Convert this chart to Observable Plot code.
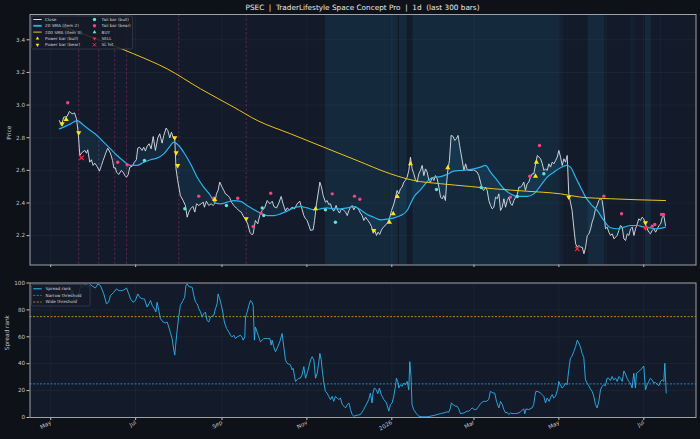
<!DOCTYPE html>
<html><head><meta charset="utf-8">
<script src="https://cdn.jsdelivr.net/npm/d3@7"></script>
<script src="https://cdn.jsdelivr.net/npm/@observablehq/plot@0.6"></script>
<style>
html,body{margin:0;padding:0;background:#0e1117;}
#wrap{position:relative;width:700px;height:439px;background:#0e1117;overflow:hidden;font-family:"DejaVu Sans",sans-serif;}
#wrap svg{position:absolute;left:0;overflow:visible;}
</style></head><body><div id="wrap"></div>
<script>
// ---- data (day offsets from 2025-05-01, values) ----
const baseDate = "2025-05-01";
const closeSeries = [[6.2,2.905],[7.7,2.875],[9.3,2.926],[11.7,2.930],[13.4,2.961],[15.4,2.946],[17.1,2.952],[18.5,2.916],[19.7,2.834],[20.9,2.691],[22.6,2.711],[24.5,2.722],[25.7,2.705],[26.6,2.726],[28.0,2.650],[29.2,2.665],[30.4,2.630],[31.6,2.644],[33.3,2.624],[35.0,2.595],[36.4,2.630],[37.6,2.660],[39.3,2.701],[40.9,2.736],[42.5,2.711],[43.4,2.691],[44.4,2.660],[45.3,2.615],[46.5,2.615],[47.2,2.589],[48.9,2.575],[50.6,2.599],[52.0,2.589],[53.2,2.569],[54.4,2.558],[55.6,2.573],[56.8,2.620],[58.4,2.624],[60.1,2.650],[61.5,2.665],[62.5,2.736],[63.9,2.742],[65.6,2.722],[66.8,2.742],[68.0,2.718],[69.2,2.748],[70.7,2.763],[72.1,2.732],[73.6,2.807],[75.2,2.722],[76.9,2.799],[78.3,2.824],[80.0,2.767],[81.2,2.814],[82.9,2.859],[84.1,2.844],[85.5,2.799],[86.7,2.834],[87.9,2.803],[89.1,2.787],[90.0,2.609],[91.2,2.538],[93.1,2.446],[95.1,2.415],[96.7,2.385],[98.0,2.313],[99.2,2.344],[100.4,2.364],[102.1,2.379],[103.5,2.344],[104.7,2.395],[106.3,2.385],[108.0,2.395],[109.5,2.405],[110.4,2.374],[111.8,2.411],[113.5,2.385],[115.2,2.395],[116.6,2.385],[117.8,2.395],[119.0,2.456],[120.2,2.477],[121.4,2.528],[123.1,2.497],[124.3,2.477],[125.5,2.456],[127.2,2.446],[128.6,2.432],[129.8,2.405],[131.5,2.385],[133.4,2.368],[135.1,2.354],[136.8,2.344],[138.7,2.313],[139.9,2.303],[141.5,2.272],[143.0,2.221],[144.6,2.205],[145.4,2.211],[147.0,2.293],[148.7,2.272],[150.1,2.323],[151.8,2.354],[153.6,2.370],[155.5,2.415],[157.4,2.395],[159.1,2.411],[160.3,2.378],[162.2,2.370],[163.8,2.399],[165.5,2.440],[166.9,2.395],[168.6,2.350],[169.8,2.370],[171.5,2.358],[173.4,2.374],[175.1,2.364],[177.0,2.395],[178.9,2.411],[180.1,2.374],[181.8,2.323],[183.0,2.303],[184.2,2.293],[186.6,2.232],[188.5,2.236],[189.5,2.293],[190.9,2.395],[192.6,2.487],[193.3,2.528],[194.5,2.497],[195.7,2.446],[197.3,2.405],[198.5,2.415],[199.7,2.391],[200.9,2.395],[202.1,2.364],[203.3,2.350],[205.0,2.385],[206.2,2.354],[207.4,2.338],[208.8,2.364],[210.1,2.358],[211.8,2.344],[213.0,2.323],[214.2,2.354],[215.3,2.374],[216.5,2.385],[217.7,2.358],[218.9,2.378],[220.1,2.370],[221.3,2.358],[222.5,2.338],[223.7,2.323],[224.9,2.293],[226.1,2.313],[227.8,2.293],[229.2,2.276],[230.4,2.256],[231.6,2.215],[232.8,2.232],[234.0,2.201],[235.1,2.221],[236.3,2.207],[237.6,2.236],[239.3,2.256],[241.0,2.268],[242.2,2.283],[243.6,2.313],[244.8,2.354],[246.5,2.395],[247.7,2.436],[248.8,2.477],[250.0,2.456],[251.2,2.487],[252.4,2.497],[253.6,2.528],[254.8,2.538],[256.0,2.558],[257.2,2.599],[258.4,2.681],[259.6,2.609],[260.8,2.579],[262.0,2.542],[263.2,2.528],[264.4,2.579],[265.6,2.599],[266.8,2.630],[268.0,2.568],[269.2,2.609],[270.4,2.589],[271.6,2.538],[272.8,2.528],[274.0,2.558],[275.2,2.538],[276.4,2.568],[277.6,2.548],[278.8,2.497],[280.0,2.436],[281.2,2.425],[282.3,2.446],[283.5,2.415],[284.3,2.517],[285.2,2.599],[286.4,2.660],[287.6,2.814],[289.0,2.808],[290.2,2.783],[291.4,2.793],[292.6,2.814],[293.7,2.752],[296.8,2.599],[298.0,2.640],[299.2,2.603],[301.6,2.599],[303.9,2.603],[306.3,2.589],[307.5,2.568],[308.7,2.528],[309.9,2.487],[311.1,2.477],[312.3,2.497],[313.5,2.477],[314.7,2.415],[315.9,2.385],[317.1,2.364],[318.3,2.374],[319.5,2.436],[320.7,2.426],[321.9,2.456],[323.1,2.354],[324.3,2.374],[325.5,2.426],[326.7,2.374],[327.9,2.415],[329.1,2.436],[330.3,2.395],[331.5,2.385],[332.7,2.415],[333.9,2.436],[335.1,2.452],[336.3,2.497],[337.4,2.497],[338.6,2.507],[339.8,2.528],[341.0,2.477],[342.2,2.517],[343.4,2.528],[344.6,2.558],[345.8,2.579],[347.0,2.579],[348.3,2.640],[349.5,2.691],[350.7,2.681],[351.9,2.671],[353.1,2.640],[354.3,2.599],[355.4,2.609],[356.6,2.599],[357.8,2.640],[359.0,2.620],[360.2,2.650],[361.4,2.640],[362.6,2.660],[363.8,2.681],[365.0,2.722],[366.2,2.681],[367.4,2.630],[368.6,2.671],[369.8,2.650],[371.0,2.691],[372.1,2.456],[373.3,2.405],[374.5,2.354],[375.7,2.252],[377.0,2.150],[378.2,2.129],[379.4,2.140],[380.6,2.129],[381.8,2.129],[383.0,2.089],[384.2,2.129],[385.4,2.201],[386.6,2.211],[387.8,2.242],[388.9,2.283],[390.1,2.313],[391.3,2.364],[392.5,2.385],[393.7,2.415],[394.9,2.426],[396.1,2.415],[397.3,2.344],[398.5,2.242],[399.7,2.252],[400.9,2.221],[402.1,2.201],[403.3,2.211],[404.6,2.180],[405.8,2.191],[406.9,2.201],[408.1,2.232],[409.3,2.262],[410.5,2.252],[411.7,2.180],[412.9,2.170],[414.1,2.211],[415.3,2.201],[416.5,2.242],[417.7,2.252],[418.9,2.201],[420.1,2.242],[421.3,2.272],[422.4,2.303],[423.6,2.293],[424.8,2.313],[426.0,2.303],[427.2,2.272],[428.4,2.242],[429.6,2.221],[430.8,2.211],[432.0,2.232],[433.2,2.242],[434.5,2.221],[435.7,2.242],[436.9,2.262],[438.1,2.272],[439.3,2.313],[440.4,2.323],[441.6,2.262]];
const sma20Series = [[6.2,2.854],[9.3,2.865],[14.2,2.885],[19.0,2.905],[23.8,2.875],[28.5,2.844],[33.3,2.814],[38.0,2.773],[42.9,2.732],[47.7,2.691],[52.5,2.656],[57.2,2.630],[62.0,2.630],[66.8,2.650],[71.7,2.665],[76.4,2.675],[81.2,2.701],[86.0,2.752],[88.4,2.773],[91.9,2.752],[95.5,2.711],[100.4,2.640],[105.2,2.558],[109.9,2.497],[114.7,2.446],[118.3,2.399],[121.9,2.395],[126.8,2.405],[131.5,2.415],[136.3,2.410],[141.1,2.385],[145.8,2.360],[150.6,2.338],[155.5,2.323],[160.3,2.323],[165.0,2.333],[169.8,2.350],[174.6,2.370],[179.3,2.378],[184.2,2.370],[189.0,2.358],[193.8,2.364],[198.5,2.370],[203.3,2.364],[208.1,2.364],[213.0,2.370],[217.7,2.378],[222.5,2.358],[227.3,2.329],[232.0,2.313],[236.8,2.297],[241.7,2.301],[246.5,2.309],[251.2,2.323],[256.0,2.354],[258.4,2.395],[260.8,2.436],[265.6,2.480],[270.4,2.530],[274.0,2.555],[280.0,2.562],[284.7,2.575],[289.5,2.595],[294.4,2.599],[303.9,2.609],[308.7,2.620],[312.3,2.630],[315.9,2.589],[320.7,2.538],[325.5,2.487],[330.3,2.456],[335.1,2.440],[342.2,2.440],[347.0,2.456],[351.9,2.507],[356.6,2.558],[361.4,2.589],[366.2,2.616],[370.5,2.630],[373.3,2.620],[377.0,2.558],[380.6,2.497],[384.2,2.436],[387.8,2.395],[392.5,2.354],[397.3,2.293],[402.1,2.248],[406.9,2.242],[411.7,2.252],[416.5,2.262],[421.3,2.262],[426.0,2.252],[430.8,2.248],[435.7,2.242],[441.6,2.252]];
const sma200Series = [[6.2,3.488],[35.7,3.396],[59.6,3.314],[83.6,3.222],[107.5,3.100],[131.5,2.987],[148.3,2.906],[172.2,2.824],[196.1,2.742],[220.1,2.660],[244.0,2.579],[260.8,2.538],[280.0,2.518],[301.5,2.501],[318.2,2.487],[342.2,2.472],[366.2,2.456],[380.5,2.436],[402.1,2.426],[441.6,2.415]];
const powerBull = [[11.1,2.912],[117.8,2.421],[190.2,2.364],[243.3,2.282],[246.0,2.334],[248.9,2.440],[258.4,2.640],[285.2,2.616],[348.2,2.564],[348.9,2.650]];
const powerBear = [[8.2,2.885],[20.1,2.830],[89.1,2.800],[90.1,2.708],[91.2,2.630],[140.4,2.303],[232.0,2.232],[372.1,2.436],[427.2,2.279]];
const tailBull = [[67.3,2.660],[96.3,2.365],[126.2,2.385],[151.9,2.370],[153.0,2.323],[197.3,2.358],[204.5,2.282],[277.1,2.483],[309.2,2.495],[335.1,2.440],[354.2,2.579]];
const tailBear = [[12.2,3.014],[48.1,2.650],[54.9,2.634],[106.3,2.442],[117.1,2.430],[134.3,2.429],[145.4,2.256],[151.1,2.337],[158.0,2.460],[202.2,2.456],[218.2,2.442],[222.0,2.423],[330.2,2.436],[344.1,2.564],[351.1,2.752],[397.3,2.442],[410.0,2.334],[432.0,2.258],[433.9,2.268],[438.7,2.330],[440.2,2.330]];
const buySignals = [];
const sellSignals = [[427.2,2.248]];
const slHits = [[22.1,2.677],[378.2,2.119]];
const signalLines = [20.1,34.5,46.0,54.4,92.0,140.4];
const strongBands = [[197.3,249.6],[250.5,256.0],[260.1,364.9],[386.1,397.8],[427.2,431.3]];
const weakBands = [[364.9,368.1],[368.1,368.8],[371.0,371.7],[397.8,399.7],[416.9,418.4],[418.5,419.7],[438.0,438.9]];
const spreadSeries = [[6.9,94.3],[9.3,96.8],[11.7,93.1],[13.6,89.4],[15.4,94.8],[17.1,88.2],[19.4,87.0],[21.4,98.0],[23.3,96.8],[24.9,99.3],[26.6,96.8],[28.5,98.8],[30.4,97.3],[32.1,96.3],[33.8,99.3],[35.7,98.0],[38.1,91.9],[40.0,84.5],[41.6,85.7],[42.9,90.7],[45.3,93.1],[47.2,95.6],[48.9,94.3],[50.6,94.3],[52.5,94.8],[54.4,96.3],[56.1,91.9],[57.3,88.2],[59.1,85.7],[60.8,87.0],[62.5,91.9],[63.9,89.4],[65.6,88.2],[67.3,88.2],[69.2,82.1],[70.5,84.5],[71.7,87.0],[72.9,83.3],[74.5,80.8],[75.5,78.4],[76.4,85.7],[77.6,79.6],[78.8,73.5],[80.7,71.0],[82.4,70.3],[83.6,71.0],[84.8,67.3],[86.0,62.9],[87.2,58.7],[88.4,50.1],[89.1,46.4],[89.6,52.6],[90.8,64.9],[91.9,74.7],[93.1,83.3],[95.0,87.0],[96.2,89.4],[97.1,98.0],[98.0,99.3],[99.2,97.3],[101.6,96.8],[102.8,90.7],[104.0,85.7],[105.2,84.5],[106.4,80.8],[107.6,78.4],[108.7,74.7],[109.9,77.1],[111.1,78.4],[112.3,72.2],[113.5,71.0],[114.7,74.7],[117.1,75.9],[118.3,80.8],[119.5,84.5],[120.2,91.9],[121.4,88.2],[122.6,83.3],[123.8,77.1],[124.7,71.0],[126.3,66.1],[127.9,63.6],[129.1,61.2],[130.3,59.9],[131.5,61.2],[132.7,58.7],[133.9,59.9],[136.3,61.2],[137.5,59.5],[138.2,57.5],[139.4,59.9],[139.9,74.7],[141.1,78.4],[142.3,83.3],[143.5,87.0],[144.6,85.7],[145.4,83.3],[146.3,57.5],[147.0,67.3],[148.2,63.6],[149.4,59.9],[150.6,56.3],[153.0,58.7],[155.5,58.7],[157.4,58.7],[158.3,53.8],[159.0,57.5],[160.2,52.6],[161.4,48.9],[162.6,51.4],[164.5,56.3],[166.2,62.4],[167.4,52.6],[168.6,42.8],[169.8,40.3],[172.2,39.1],[173.4,35.4],[174.1,36.6],[175.8,26.8],[177.0,28.0],[178.1,29.2],[179.3,29.2],[180.5,31.7],[181.8,37.8],[183.0,29.2],[184.2,32.9],[185.4,37.8],[186.6,42.8],[187.8,45.2],[189.0,42.8],[190.2,29.2],[191.4,32.9],[192.6,41.5],[193.3,47.7],[194.3,42.8],[195.0,35.4],[196.2,25.6],[197.3,19.4],[198.5,18.2],[199.7,15.7],[200.9,13.3],[202.1,15.7],[203.3,12.0],[204.5,15.7],[205.7,14.5],[206.9,13.3],[208.1,14.5],[209.4,9.6],[210.6,8.4],[211.8,7.1],[213.0,9.6],[214.2,10.8],[215.3,6.0],[216.5,2.2],[217.7,1.0],[220.1,1.7],[222.5,2.2],[224.8,5.9],[227.2,10.8],[228.4,13.3],[229.6,18.2],[230.8,10.8],[231.5,18.2],[232.5,21.9],[233.9,20.6],[234.9,17.7],[236.1,21.9],[237.4,17.0],[239.3,13.3],[241.2,10.8],[242.8,4.7],[244.0,9.6],[245.2,10.8],[246.4,15.7],[247.6,23.1],[248.3,29.2],[249.3,26.8],[250.0,21.9],[251.2,24.3],[252.4,23.1],[253.6,25.6],[254.8,24.3],[256.0,26.8],[257.2,20.6],[257.9,41.5],[258.8,30.5],[259.5,9.6],[260.7,5.9],[263.1,2.2],[264.4,1.0],[266.8,0.5],[270.4,0.5],[272.8,1.0],[275.2,1.5],[277.5,2.2],[279.9,2.9],[282.3,3.4],[284.7,4.2],[285.9,3.9],[287.1,7.1],[287.8,10.8],[289.0,9.6],[290.7,8.4],[291.9,8.4],[293.1,6.4],[294.3,2.9],[296.7,3.4],[299.1,4.7],[300.3,4.7],[301.5,5.9],[302.7,7.1],[304.4,5.9],[305.8,5.9],[307.5,8.4],[308.7,10.3],[309.8,11.3],[311.0,12.0],[312.9,12.0],[314.6,13.3],[315.8,19.4],[317.7,18.2],[318.9,18.2],[320.2,12.0],[321.9,7.1],[323.1,12.0],[324.3,9.6],[325.5,5.9],[326.7,3.4],[327.8,3.9],[329.0,2.2],[330.2,3.4],[331.4,2.9],[333.8,2.9],[336.2,3.4],[337.4,4.2],[338.6,5.4],[339.8,6.4],[340.5,2.7],[341.4,6.4],[343.4,5.9],[345.7,7.1],[346.9,9.6],[347.7,15.7],[348.5,19.4],[349.9,19.4],[351.8,18.2],[353.0,17.0],[354.2,15.7],[355.4,10.8],[356.6,14.5],[358.0,12.0],[359.4,15.7],[360.2,17.0],[361.3,14.5],[362.5,15.7],[364.2,21.1],[364.9,26.8],[366.1,24.3],[367.3,21.9],[368.5,23.1],[369.7,25.6],[370.9,24.3],[372.1,35.4],[373.3,44.0],[374.5,45.7],[375.7,48.9],[377.0,52.6],[378.2,57.5],[378.9,56.3],[380.5,52.6],[381.7,47.7],[382.9,44.7],[384.1,28.0],[385.3,25.6],[386.5,23.6],[387.7,21.1],[388.9,19.4],[390.1,15.7],[391.3,9.6],[392.5,7.1],[393.7,12.0],[394.9,20.6],[396.0,23.1],[397.2,24.3],[398.4,23.6],[399.6,29.2],[400.8,29.2],[402.0,27.5],[403.2,30.5],[404.4,28.0],[405.7,29.2],[406.9,26.8],[408.1,30.5],[409.3,29.2],[410.5,26.8],[411.7,34.6],[412.8,32.4],[414.0,29.2],[415.2,26.8],[416.4,25.6],[417.6,21.9],[418.8,32.9],[420.0,21.9],[420.7,32.9],[422.4,34.2],[423.6,35.4],[424.8,36.6],[426.0,38.3],[427.2,20.6],[428.4,24.3],[429.6,26.8],[430.7,29.2],[431.9,28.0],[433.1,25.6],[434.3,26.0],[435.6,24.8],[436.8,23.6],[438.0,26.8],[439.2,28.0],[440.4,26.8],[441.1,40.3],[442.1,18.2]];
const narrowThreshold = 25;
const wideThreshold = 75;
const xTickDates = ["2025-05-01","2025-07-01","2025-09-01","2025-11-01","2026-01-01","2026-03-01","2026-05-01","2026-07-01"];
const xTickLabels = ["May","Jul","Sep","Nov","2026","Mar","May","Jul"];
const priceTicks = [2.2,2.4,2.6,2.8,3.0,3.2,3.4];
const spreadTicks = [0,20,40,60,80,100];
const titleText = "PSEC  |  TraderLifestyle Space Concept Pro  |  1d  (last 300 bars)";
const topLegendLabels = ["Close","20 SMA (item 2)","200 SMA (item 3)","Power bar (bull)","Power bar (bear)","Tail bar (bull)","Tail bar (bear)","BUY","SELL","SL hit"];
const bottomLegendLabels = ["Spread rank","Narrow threshold","Wide threshold"];

// ---- helpers ----
const BASE = Date.parse(baseDate + "T00:00:00Z");
const toDate = d => new Date(BASE + d * 864e5);
const tickDates = xTickDates.map(s => new Date(s + "T00:00:00Z"));
const tickLabelMap = new Map(tickDates.map((d, i) => [+d, xTickLabels[i]]));
const X = d => toDate(d[0]), Y = d => d[1];
const xDomain = [toDate(-14.9), toDate(463.5)];
const smaAt = d3.scaleLinear().domain(sma20Series.map(d => d[0])).range(sma20Series.map(d => d[1])).clamp(true);

const C = {bg:"#131a29", blue:"#2bb3ef", close:"#dde1e6", gold:"#efc21c", yellow:"#ffe414", teal:"#62e2d2", pink:"#f6407f", red:"#ff2b3c", grid:"#ffffff", text:"#c3c7cd", frame:"#9da2aa"};
const font = "DejaVu Sans";

const topPlot = Plot.plot({
  width: 700, height: 272,
  marginTop: 14, marginBottom: 7.5, marginLeft: 29.5, marginRight: 4.5,
  style: {background: "transparent", color: C.text, fontFamily: font, fontSize: "5.6px", overflow: "visible"},
  x: {type: "utc", domain: xDomain},
  y: {domain: [2.020, 3.555]},
  marks: [
    Plot.frame({fill: C.bg}),
    Plot.rect(strongBands, {x1: d => toDate(d[0]), x2: d => toDate(d[1]), fill: C.blue, fillOpacity: 0.1}),
    Plot.rect(weakBands, {x1: d => toDate(d[0]), x2: d => toDate(d[1]), fill: C.blue, fillOpacity: 0.05}),
    Plot.gridY(priceTicks, {stroke: C.grid, strokeOpacity: 0.06, strokeWidth: 0.7}),
    Plot.gridX(tickDates, {stroke: C.grid, strokeOpacity: 0.06, strokeWidth: 0.7}),
    Plot.ruleX(signalLines, {x: d => toDate(d), stroke: "#8a2e64", strokeOpacity: 0.75, strokeDasharray: "2.5,2", strokeWidth: 0.8}),
    Plot.areaY(closeSeries, {x: X, y1: Y, y2: d => smaAt(d[0]), fill: C.blue, fillOpacity: 0.1}),
    Plot.line(closeSeries, {x: X, y: Y, stroke: C.close, strokeWidth: 0.9}),
    Plot.line(sma20Series, {x: X, y: Y, stroke: C.blue, strokeWidth: 1.2, curve: "monotone-x"}),
    Plot.line(sma200Series, {x: X, y: Y, stroke: C.gold, strokeWidth: 1, curve: "monotone-x"}),
    Plot.dot(tailBull, {x: X, y: Y, r: 1.7, fill: C.teal, stroke: "none"}),
    Plot.dot(tailBear, {x: X, y: Y, r: 1.7, fill: C.pink, stroke: "none"}),
    Plot.dot(powerBull, {x: X, y: Y, r: 1.9, symbol: "triangle", fill: C.yellow, stroke: "none"}),
    Plot.dot(powerBear, {x: X, y: Y, r: 1.9, symbol: "triangle", rotate: 180, fill: C.yellow, stroke: "none"}),
    Plot.dot(buySignals, {x: X, y: Y, r: 2.1, symbol: "triangle", fill: C.teal, stroke: "none"}),
    Plot.dot(sellSignals, {x: X, y: Y, r: 2.1, symbol: "triangle", rotate: 180, fill: C.red, stroke: "none"}),
    Plot.dot(slHits, {x: X, y: Y, r: 2.2, symbol: "times", stroke: C.red, strokeWidth: 1.1}),
    Plot.axisY({ticks: priceTicks, tickFormat: d3.format(".1f"), tickSize: 3, tickPadding: 2, label: null}),
    Plot.axisX({ticks: tickDates, tickFormat: () => "", tickSize: 2.5, label: null}),
    Plot.text(["Price"], {frameAnchor: "left", text: d => d, rotate: -90, dx: -20.5, fill: C.text, fontSize: 5.8}),
    Plot.frame({stroke: C.frame, strokeWidth: 1})
  ]
});

const botPlot = Plot.plot({
  width: 700, height: 167,
  marginTop: 10.5, marginBottom: 22, marginLeft: 29.5, marginRight: 4.5,
  style: {background: "transparent", color: C.text, fontFamily: font, fontSize: "5.6px", overflow: "visible"},
  x: {type: "utc", domain: xDomain},
  y: {domain: [0, 100]},
  marks: [
    Plot.frame({fill: C.bg}),
    Plot.gridY(spreadTicks, {stroke: C.grid, strokeOpacity: 0.06, strokeWidth: 0.7}),
    Plot.gridX(tickDates, {stroke: C.grid, strokeOpacity: 0.06, strokeWidth: 0.7}),
    Plot.ruleY([wideThreshold], {stroke: "#d9a520", strokeDasharray: "2,1.5", strokeWidth: 0.8}),
    Plot.ruleY([narrowThreshold], {stroke: "#2a9fd6", strokeDasharray: "2,1.5", strokeWidth: 0.8}),
    Plot.line(spreadSeries, {x: X, y: Y, stroke: C.blue, strokeWidth: 0.9}),
    Plot.axisY({ticks: spreadTicks, tickFormat: d3.format("d"), tickSize: 3, tickPadding: 2, label: null}),
    Plot.axisX({ticks: tickDates, tickFormat: d => tickLabelMap.get(+d), tickSize: 3, tickPadding: 1.5, tickRotate: -30, label: null}),
    Plot.text(["Spread rank"], {frameAnchor: "left", text: d => d, rotate: -90, dx: -22.8, fill: C.text, fontSize: 5.8}),
    Plot.frame({stroke: C.frame, strokeWidth: 1})
  ]
});

const wrap = document.getElementById("wrap");
topPlot.style.top = "0px";
botPlot.style.top = "272px";
wrap.appendChild(topPlot);
wrap.appendChild(botPlot);

// ---- overlay: title + legends ----
function tri(cx, cy, s, down) {
  const h = s * 0.87;
  return down
    ? `M${cx - s/2},${cy - h/3} L${cx + s/2},${cy - h/3} L${cx},${cy + 2*h/3} Z`
    : `M${cx - s/2},${cy + h/3} L${cx + s/2},${cy + h/3} L${cx},${cy - 2*h/3} Z`;
}
const rows = [19.5, 25.8, 32.1, 38.5, 44.8];
let ov = `<svg xmlns="http://www.w3.org/2000/svg" width="700" height="439" style="top:0" font-family="${font}">`;
ov += `<text x="362.5" y="9.6" text-anchor="middle" font-size="7.3" fill="#e8eaed" style="white-space:pre">${titleText}</text>`;
ov += `<rect x="31.6" y="16" width="101" height="33" rx="1.5" fill="#151b27" fill-opacity="0.85" stroke="#454c5a" stroke-width="0.6"/>`;
const handles1 = [
  `<line x1="33.3" x2="41.7" y1="${rows[0]}" y2="${rows[0]}" stroke="${C.close}" stroke-width="1"/>`,
  `<line x1="33.3" x2="41.7" y1="${rows[1]}" y2="${rows[1]}" stroke="${C.blue}" stroke-width="1.8"/>`,
  `<line x1="33.3" x2="41.7" y1="${rows[2]}" y2="${rows[2]}" stroke="${C.gold}" stroke-width="1"/>`,
  `<path d="${tri(37.5, rows[3], 3.6, false)}" fill="${C.yellow}"/>`,
  `<path d="${tri(37.5, rows[4], 3.6, true)}" fill="${C.yellow}"/>`
];
const handles2 = [
  `<circle cx="94.5" cy="${rows[0]}" r="1.7" fill="${C.teal}"/>`,
  `<circle cx="94.5" cy="${rows[1]}" r="1.7" fill="${C.pink}"/>`,
  `<path d="${tri(94.5, rows[2], 3.8, false)}" fill="${C.teal}"/>`,
  `<path d="${tri(94.5, rows[3], 3.8, true)}" fill="${C.red}"/>`,
  `<path d="M92.8,${rows[4]-1.7} L96.2,${rows[4]+1.7} M96.2,${rows[4]-1.7} L92.8,${rows[4]+1.7}" stroke="${C.red}" stroke-width="1"/>`
];
for (let i = 0; i < 5; i++) {
  ov += handles1[i] + `<text x="45" y="${rows[i]}" dy="0.35em" font-size="4.2" fill="#d3d6db">${topLegendLabels[i]}</text>`;
  ov += handles2[i] + `<text x="101.6" y="${rows[i]}" dy="0.35em" font-size="4.2" fill="#d3d6db">${topLegendLabels[5 + i]}</text>`;
}
const rows2 = [288.8, 295.4, 302.0];
ov += `<rect x="31.6" y="284.5" width="58.5" height="21.5" rx="1.5" fill="#151b27" fill-opacity="0.85" stroke="#454c5a" stroke-width="0.6"/>`;
const handles3 = [
  `<line x1="33.3" x2="41.7" y1="${rows2[0]}" y2="${rows2[0]}" stroke="${C.blue}" stroke-width="1.1"/>`,
  `<line x1="33.3" x2="41.7" y1="${rows2[1]}" y2="${rows2[1]}" stroke="#2a9fd6" stroke-width="0.8" stroke-dasharray="2,1.5"/>`,
  `<line x1="33.3" x2="41.7" y1="${rows2[2]}" y2="${rows2[2]}" stroke="#d9a520" stroke-width="0.8" stroke-dasharray="2,1.5"/>`
];
for (let i = 0; i < 3; i++) {
  ov += handles3[i] + `<text x="45.5" y="${rows2[i]}" dy="0.35em" font-size="4.2" fill="#d3d6db">${bottomLegendLabels[i]}</text>`;
}
ov += `</svg>`;
wrap.insertAdjacentHTML("beforeend", ov);
</script></body></html>
